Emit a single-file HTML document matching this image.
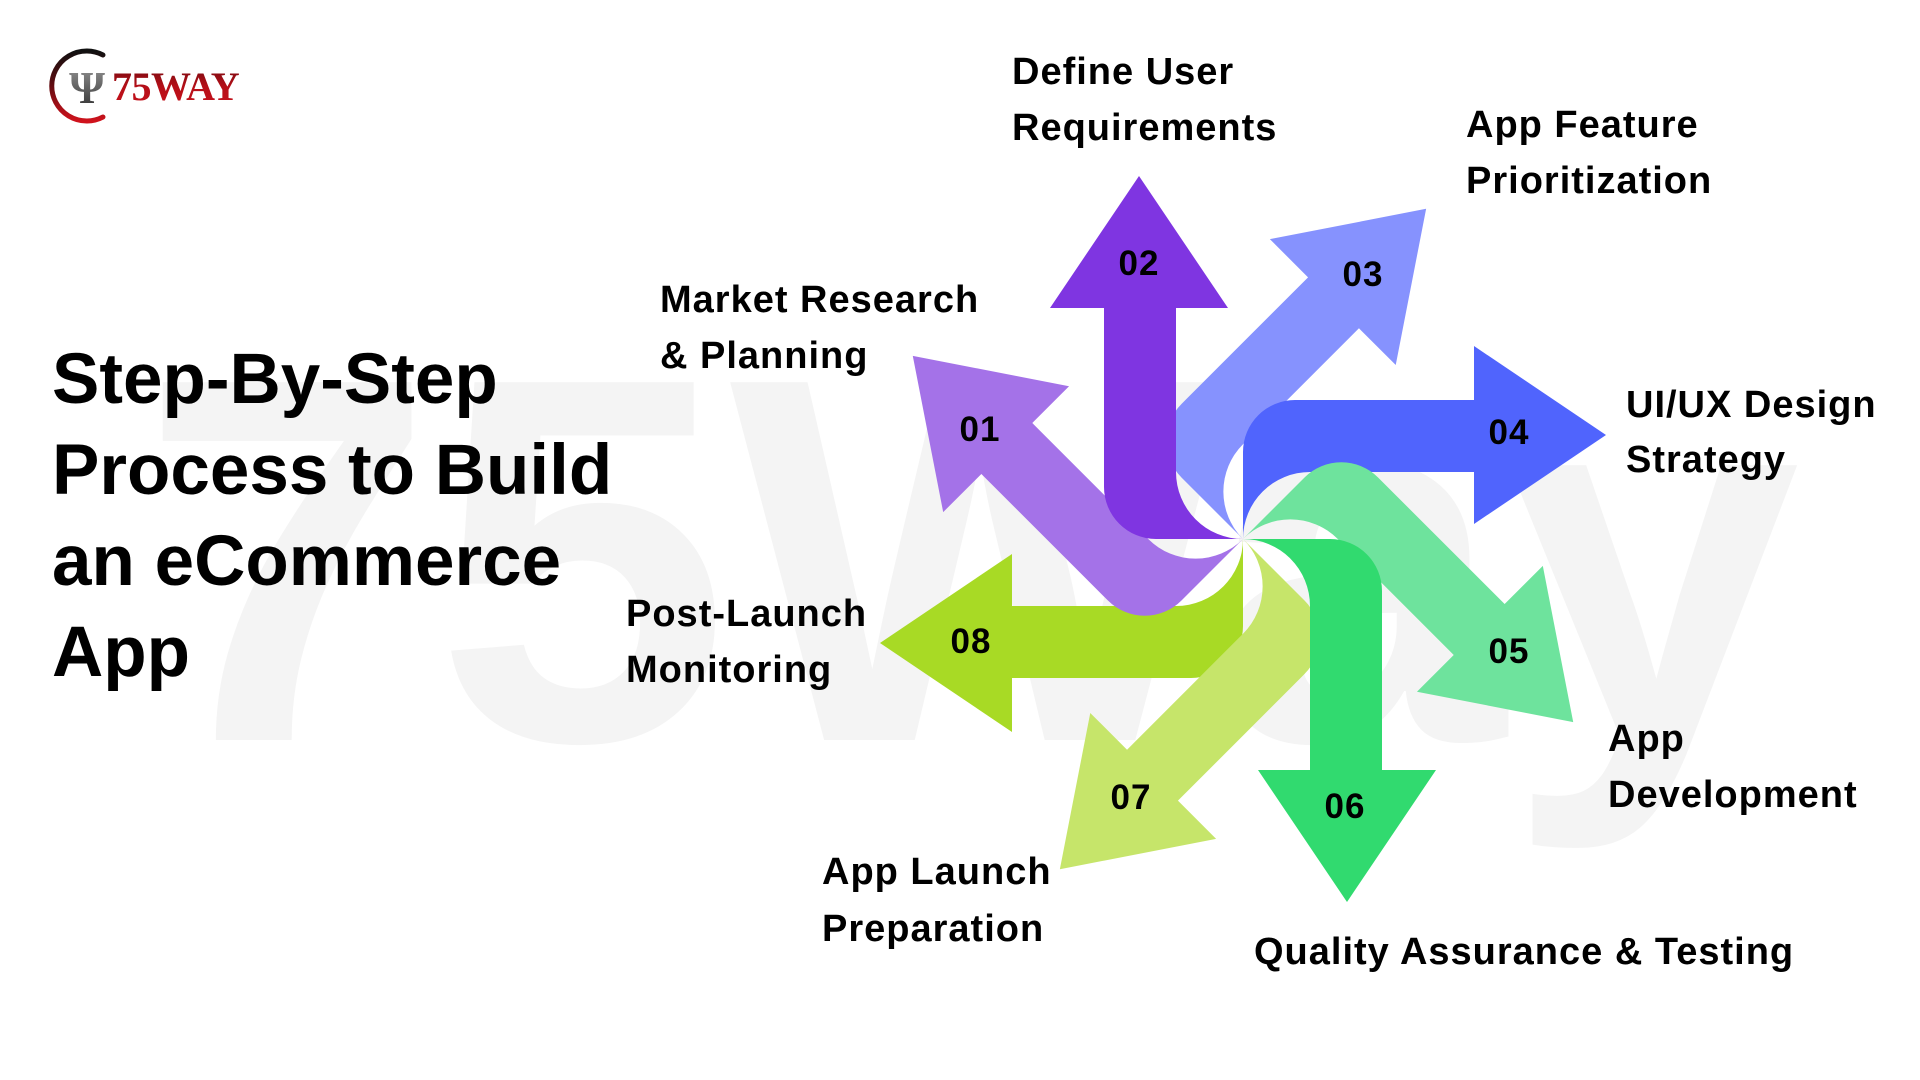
<!DOCTYPE html>
<html>
<head>
<meta charset="utf-8">
<style>
  html,body{margin:0;padding:0;background:#fff;}
  body{width:1920px;height:1080px;overflow:hidden;}
  svg{display:block;}
  .lbl{font-family:"Liberation Sans",Arial,sans-serif;font-weight:700;font-size:38px;letter-spacing:1px;fill:#000;}
  .num{font-family:"Liberation Sans",Arial,sans-serif;font-weight:700;font-size:35px;letter-spacing:1px;fill:#000;text-anchor:middle;}
  .ttl{font-family:"Liberation Sans",Arial,sans-serif;font-weight:700;font-size:71px;fill:#000;}
</style>
</head>
<body>
<svg width="1920" height="1080" viewBox="0 0 1920 1080" xmlns="http://www.w3.org/2000/svg">
  <defs>
    <path id="arr" d="M 0 0 L 0 -87 A 52 52 0 0 1 52 -139 L 231 -139 L 231 -193 L 363 -104 L 231 -15 L 231 -67 L 67 -67 A 67 67 0 0 0 0 0 Z"/>
    <linearGradient id="ring" x1="0" y1="0" x2="0" y2="1">
      <stop offset="0" stop-color="#111"/>
      <stop offset="0.45" stop-color="#5a0c10"/>
      <stop offset="1" stop-color="#d0121c"/>
    </linearGradient>
    <linearGradient id="icon" x1="0" y1="0" x2="0" y2="1">
      <stop offset="0" stop-color="#9a9a9a"/>
      <stop offset="1" stop-color="#2a2a2a"/>
    </linearGradient>
    <linearGradient id="red" x1="0" y1="0" x2="0" y2="1">
      <stop offset="0" stop-color="#6e0a0f"/>
      <stop offset="0.5" stop-color="#b50f18"/>
      <stop offset="1" stop-color="#c8111b"/>
    </linearGradient>
  </defs>

  <rect width="1920" height="1080" fill="#ffffff"/>

  <!-- watermark -->
  <text x="140" y="740" font-family="Liberation Sans, Arial, sans-serif" font-weight="700" font-size="520" fill="#f4f4f4" textLength="1660" lengthAdjust="spacingAndGlyphs">75Way</text>

  <!-- logo -->
  <path d="M 103 55 A 35 35 0 1 0 103 117" fill="none" stroke="url(#ring)" stroke-width="5" stroke-linecap="round"/>
  <text x="87" y="103" text-anchor="middle" font-family="Liberation Serif, serif" font-weight="700" font-size="46" fill="url(#icon)">Ψ</text>
  <text x="112" y="100" font-family="Liberation Serif, serif" font-weight="700" font-size="40" fill="url(#red)" letter-spacing="-0.5">75WAY</text>

  <!-- title -->
  <text class="ttl" x="52" y="403">Step-By-Step</text>
  <text class="ttl" x="52" y="494">Process to Build</text>
  <text class="ttl" x="52" y="585">an eCommerce</text>
  <text class="ttl" x="52" y="676">App</text>

  <!-- arrows -->
  <g opacity="0.97">
    <use href="#arr" transform="translate(1243,539) rotate(315)" fill="#838ffe"/>
    <use href="#arr" transform="translate(1243,539) rotate(180)" fill="#a6d91e"/>
    <use href="#arr" transform="translate(1243,539) rotate(225)" fill="#a26ee8"/>
    <use href="#arr" transform="translate(1243,539) rotate(270)" fill="#7b2fe0"/>
    <use href="#arr" transform="translate(1243,539) rotate(0)" fill="#4b5ffd"/>
    <use href="#arr" transform="translate(1243,539) rotate(45)" fill="#6ae39a"/>
    <use href="#arr" transform="translate(1243,539) rotate(135)" fill="#c5e566"/>
    <use href="#arr" transform="translate(1243,539) rotate(90)" fill="#2bd96b"/>
  </g>

  <!-- numbers -->
  <text class="num" x="980" y="441">01</text>
  <text class="num" x="1139" y="275">02</text>
  <text class="num" x="1363" y="286">03</text>
  <text class="num" x="1509" y="444">04</text>
  <text class="num" x="1509" y="663">05</text>
  <text class="num" x="1345" y="818">06</text>
  <text class="num" x="1131" y="809">07</text>
  <text class="num" x="971" y="653">08</text>

  <!-- labels -->
  <text class="lbl" x="660" y="312">Market Research</text>
  <text class="lbl" x="660" y="368">&amp; Planning</text>

  <text class="lbl" x="1012" y="84">Define User</text>
  <text class="lbl" x="1012" y="140">Requirements</text>

  <text class="lbl" x="1466" y="137">App Feature</text>
  <text class="lbl" x="1466" y="193">Prioritization</text>

  <text class="lbl" x="1626" y="417">UI/UX Design</text>
  <text class="lbl" x="1626" y="472">Strategy</text>

  <text class="lbl" x="1608" y="751">App</text>
  <text class="lbl" x="1608" y="807">Development</text>

  <text class="lbl" x="1254" y="964">Quality Assurance &amp; Testing</text>

  <text class="lbl" x="822" y="884">App Launch</text>
  <text class="lbl" x="822" y="941">Preparation</text>

  <text class="lbl" x="626" y="626">Post-Launch</text>
  <text class="lbl" x="626" y="682">Monitoring</text>
</svg>
</body>
</html>
